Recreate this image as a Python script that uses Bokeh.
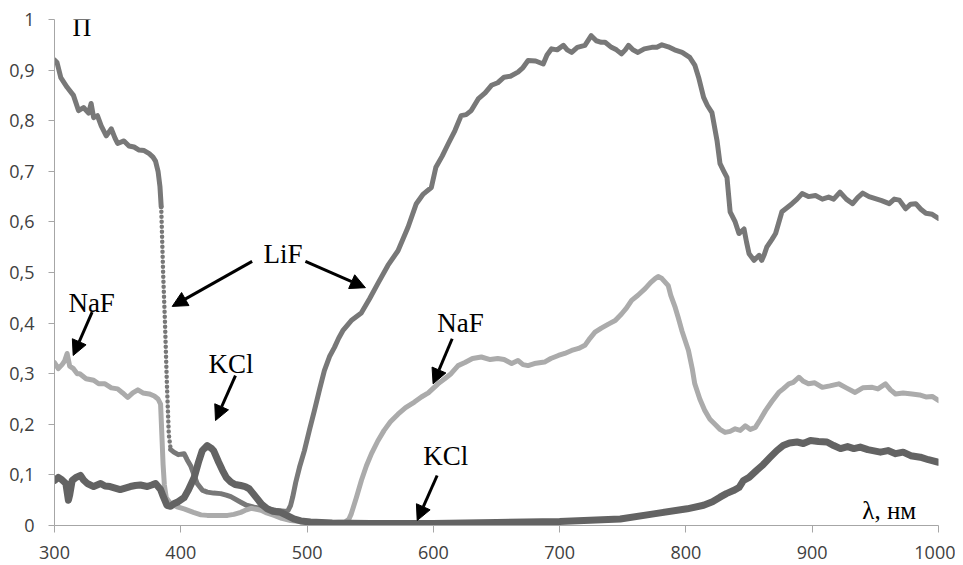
from bokeh.plotting import figure
from bokeh.models import Range1d, FixedTicker, CustomJSTickFormatter, Label, Arrow, NormalHead
from bokeh.embed import file_html
from bokeh.resources import INLINE

# ---------------- data ----------------
lif_x = [300, 302, 305, 310, 315, 319, 323, 327, 329, 331, 334, 337, 341, 345, 348, 350, 355, 359, 363, 367,
         371, 375, 378, 380, 382, 383.5, 384.5, 386, 387.5, 389, 390.5, 392, 394.5, 398, 402.6, 405, 408, 413,
         417, 421, 426, 431.6, 436, 439.6, 447.5, 452, 458, 463, 468, 475, 481.6, 485, 487, 488.6, 491, 494,
         497.9, 502, 505.8, 510, 513.7, 518, 521.7, 525, 528.3, 535, 542.9, 549.5, 556, 564, 572, 580, 586.5,
         592, 598.4, 602, 607, 611.7, 617, 622, 626, 630, 635.5, 641, 646, 651, 656, 661, 667, 671, 675, 681,
         687, 690, 693.6, 698, 703, 706, 709.5, 714, 720, 725, 729, 733, 736, 741, 745, 749, 752, 754.5, 758,
         762, 767, 773, 777, 781, 786, 791, 797, 803, 807, 810, 814, 817, 820.6, 824.6, 827, 830, 832.5, 835,
         839, 842, 846, 848, 850, 854, 858, 860, 862, 864, 868, 871, 876, 880, 884, 888, 892, 897, 902.6, 908,
         913, 917, 922, 927, 932, 936, 940, 945, 950, 955, 961, 965, 969, 974, 978, 982, 986, 990, 995, 1000]
lif_y = [0.92, 0.915, 0.885, 0.866, 0.85, 0.82, 0.826, 0.815, 0.834, 0.806, 0.81, 0.79, 0.77, 0.784, 0.765,
         0.755, 0.76, 0.75, 0.748, 0.742, 0.741, 0.735, 0.728, 0.72, 0.70, 0.67, 0.63, 0.50, 0.40, 0.28, 0.18,
         0.15, 0.145, 0.14, 0.142, 0.13, 0.117, 0.083, 0.07, 0.066, 0.064, 0.063, 0.06, 0.057, 0.046, 0.04,
         0.036, 0.034, 0.033, 0.03, 0.028, 0.03, 0.04, 0.056, 0.085, 0.115, 0.148, 0.19, 0.227, 0.27, 0.306,
         0.335, 0.352, 0.37, 0.385, 0.405, 0.42, 0.448, 0.478, 0.514, 0.543, 0.59, 0.636, 0.655, 0.668, 0.708,
         0.73, 0.754, 0.78, 0.81, 0.812, 0.82, 0.843, 0.855, 0.87, 0.875, 0.886, 0.888, 0.896, 0.905, 0.919,
         0.918, 0.912, 0.93, 0.942, 0.94, 0.949, 0.94, 0.935, 0.945, 0.949, 0.968, 0.958, 0.955, 0.955, 0.945,
         0.94, 0.932, 0.94, 0.949, 0.94, 0.935, 0.942, 0.945, 0.945, 0.95, 0.946, 0.94, 0.935, 0.925, 0.91,
         0.886, 0.846, 0.83, 0.816, 0.761, 0.715, 0.70, 0.688, 0.62, 0.60, 0.577, 0.586, 0.56, 0.537, 0.524,
         0.534, 0.524, 0.535, 0.55, 0.565, 0.577, 0.62, 0.628, 0.636, 0.645, 0.656, 0.65, 0.652, 0.645, 0.649,
         0.645, 0.659, 0.645, 0.636, 0.648, 0.657, 0.65, 0.646, 0.642, 0.636, 0.645, 0.643, 0.626, 0.635,
         0.636, 0.625, 0.617, 0.615, 0.607]

naf_x = [300, 303, 306, 308, 310, 312, 315, 318, 320, 325, 331, 335, 340, 345, 350, 354, 358, 362, 366, 370,
         375, 379, 382, 384, 385, 386, 387, 388.5, 392, 397, 402.6, 410, 416, 421, 430, 437, 442, 447.5, 452,
         455.6, 460, 463.5, 468, 474, 480, 487, 495, 505, 520, 530, 533, 535, 539, 543, 547, 551, 556, 561,
         566, 572, 578, 585, 590.5, 596, 603.7, 609, 614, 619.6, 625, 631, 638, 645, 651, 656, 662, 667, 671,
         675, 680, 688, 693, 699, 704, 709.5, 715, 720, 724, 728, 733, 738.6, 744, 749, 753, 757, 762, 767.7,
         772, 775.6, 778, 781, 786, 788, 791.5, 794, 796.8, 802, 805, 807, 811, 815, 819, 823, 827, 831, 835,
         839, 843, 847, 851, 855, 859, 863, 868, 873.5, 877, 881.5, 885, 889.4, 893, 897, 902, 908, 914, 921,
         927, 934, 940, 947.6, 952, 958, 962, 966, 972, 979, 985, 990, 995, 1000]
naf_y = [0.322, 0.31, 0.318, 0.325, 0.34, 0.315, 0.31, 0.30, 0.30, 0.29, 0.287, 0.28, 0.28, 0.272, 0.27,
         0.262, 0.253, 0.262, 0.268, 0.262, 0.26, 0.256, 0.25, 0.24, 0.18, 0.12, 0.08, 0.055, 0.043, 0.037,
         0.033, 0.026, 0.021, 0.02, 0.02, 0.02, 0.022, 0.026, 0.031, 0.034, 0.032, 0.03, 0.025, 0.02, 0.014,
         0.01, 0.008, 0.006, 0.006, 0.007, 0.012, 0.023, 0.055, 0.089, 0.118, 0.142, 0.167, 0.188, 0.205, 0.22,
         0.233, 0.244, 0.254, 0.262, 0.28, 0.29, 0.30, 0.316, 0.322, 0.33, 0.333, 0.328, 0.33, 0.328, 0.32,
         0.326, 0.318, 0.316, 0.32, 0.323, 0.33, 0.336, 0.34, 0.346, 0.35, 0.356, 0.37, 0.382, 0.39, 0.398,
         0.405, 0.418, 0.43, 0.445, 0.455, 0.468, 0.48, 0.488, 0.492, 0.488, 0.474, 0.455, 0.431, 0.41, 0.385,
         0.346, 0.31, 0.28, 0.25, 0.227, 0.21, 0.20, 0.19, 0.184, 0.186, 0.191, 0.188, 0.197, 0.19, 0.194,
         0.21, 0.227, 0.245, 0.263, 0.27, 0.28, 0.283, 0.293, 0.285, 0.28, 0.282, 0.273, 0.276, 0.28, 0.272,
         0.263, 0.272, 0.273, 0.27, 0.28, 0.268, 0.26, 0.262, 0.26, 0.258, 0.254, 0.255, 0.247]

kcl_x = [300, 303, 306, 309, 311, 312, 314, 317, 320.6, 323, 326, 331, 336.5, 340, 344, 348, 352, 356, 360,
         364, 368, 373.5, 377, 380, 384, 386, 389, 392, 394.5, 398, 402.6, 406, 410.6, 414, 417, 421, 424, 426,
         430, 433, 436, 439.6, 443, 447.5, 451, 454, 457, 460.5, 464, 468.4, 473, 479, 484, 489.5, 495, 502.7,
         520, 550, 600, 650, 700, 748, 774.5, 801, 814, 821, 827, 832, 837.6, 842, 845.6, 850, 856, 861, 866.8,
         872, 877, 882, 888, 893, 898.6, 905, 911.7, 917, 922.4, 928, 933, 938, 944, 950, 954, 960, 966, 972,
         978, 985.6, 992, 1000]
kcl_y = [0.089, 0.095, 0.09, 0.083, 0.05, 0.06, 0.089, 0.095, 0.099, 0.09, 0.083, 0.077, 0.083, 0.078, 0.077,
         0.074, 0.071, 0.074, 0.077, 0.079, 0.080, 0.077, 0.08, 0.083, 0.071, 0.058, 0.04, 0.038, 0.043, 0.047,
         0.055, 0.07, 0.095, 0.125, 0.148, 0.158, 0.153, 0.148, 0.125, 0.109, 0.095, 0.086, 0.081, 0.079,
         0.077, 0.073, 0.064, 0.053, 0.042, 0.033, 0.028, 0.026, 0.02, 0.013, 0.009, 0.007, 0.005, 0.004,
         0.004, 0.006, 0.008, 0.013, 0.023, 0.033, 0.04, 0.047, 0.056, 0.063, 0.069, 0.075, 0.089, 0.095,
         0.109, 0.12, 0.135, 0.148, 0.158, 0.163, 0.165, 0.162, 0.168, 0.166, 0.165, 0.158, 0.152, 0.156,
         0.152, 0.155, 0.15, 0.147, 0.145, 0.148, 0.142, 0.145, 0.138, 0.135, 0.13, 0.125]

x_ticks = [300, 400, 500, 600, 700, 800, 900, 1000]
y_ticks = [0, 0.1, 0.2, 0.3, 0.4, 0.5, 0.6, 0.7, 0.8, 0.9, 1.0]

# ---------------- figure ----------------
p = figure(width=955, height=564, output_backend="svg", toolbar_location=None,
           x_range=Range1d(300, 1000), y_range=Range1d(0, 1),
           min_border_left=54, min_border_right=17, min_border_top=19, min_border_bottom=39)
p.outline_line_color = None
p.xgrid.grid_line_color = None
p.ygrid.grid_line_color = None
p.background_fill_color = "white"

for ax in (p.xaxis[0], p.yaxis[0]):
    ax.axis_line_color = "#a6a6a6"
    ax.axis_line_width = 1
    ax.major_tick_line_color = "#a6a6a6"
    ax.major_tick_out = 6
    ax.major_tick_in = 0
    ax.minor_tick_line_color = None
    ax.major_label_text_font = "Open Sans"
    ax.major_label_text_font_size = "18px"
    ax.major_label_text_color = "#404040"

p.xaxis.major_tick_out = 7
p.xaxis.ticker = FixedTicker(ticks=x_ticks)
p.yaxis.ticker = FixedTicker(ticks=y_ticks)
p.xaxis.major_label_standoff = 13
p.yaxis.major_label_standoff = 14
p.yaxis.formatter = CustomJSTickFormatter(code="""
    if (Math.abs(tick) < 1e-9) return '0';
    if (Math.abs(tick - 1) < 1e-9) return '1';
    return tick.toFixed(1).replace('.', ',');
""")

LIF_C = "#787878"
NAF_C = "#ababab"
KCL_C = "#636363"

# LiF: solid parts and the sparse (dotted) vertical drop
i0 = lif_x.index(384.5)
i1 = lif_x.index(392)
p.line(lif_x[:i0 + 1], lif_y[:i0 + 1], line_color=LIF_C, line_width=5, line_join="round", line_cap="round")
p.line(lif_x[i0:i1 + 1], lif_y[i0:i1 + 1], line_color=LIF_C, line_width=4.5, line_dash="0 5", line_cap="round")
p.line(lif_x[i1:], lif_y[i1:], line_color=LIF_C, line_width=5, line_join="round", line_cap="round")

p.line(naf_x, naf_y, line_color=NAF_C, line_width=5, line_join="round", line_cap="round")
p.line(kcl_x, kcl_y, line_color=KCL_C, line_width=7, line_join="round", line_cap="round")

# ---------------- annotations ----------------
SERIF = "Liberation Serif"
def lab(x, y, t, size="27px"):
    p.add_layout(Label(x=x, y=y, text=t, text_font=SERIF, text_font_size=size,
                       text_color="black", text_align="left", text_baseline="alphabetic"))

lab(314.3, 0.985, "П", "26px")
lab(465.5, 0.5375, "LiF")
lab(311.0, 0.439, "NaF")
lab(422.0, 0.32, "KCl")
lab(603.0, 0.401, "NaF")
lab(592.0, 0.138, "KCl")
lab(939.7, 0.030, "λ, нм", "25px")

def arr(xs, ys, xe, ye):
    p.add_layout(Arrow(end=NormalHead(size=15, fill_color="black", line_color="black"),
                       x_start=xs, y_start=ys, x_end=xe, y_end=ye,
                       line_color="black", line_width=3))

arr(456.5, 0.522, 393.2, 0.433)
arr(498.7, 0.522, 546.2, 0.470)
arr(329.8, 0.4215, 314.8, 0.336)
arr(443.3, 0.296, 427.5, 0.2075)
arr(614.9, 0.369, 599.8, 0.280)
arr(603.0, 0.0988, 587.2, 0.0099)

open("out.html", "w").write(file_html(p, INLINE))
